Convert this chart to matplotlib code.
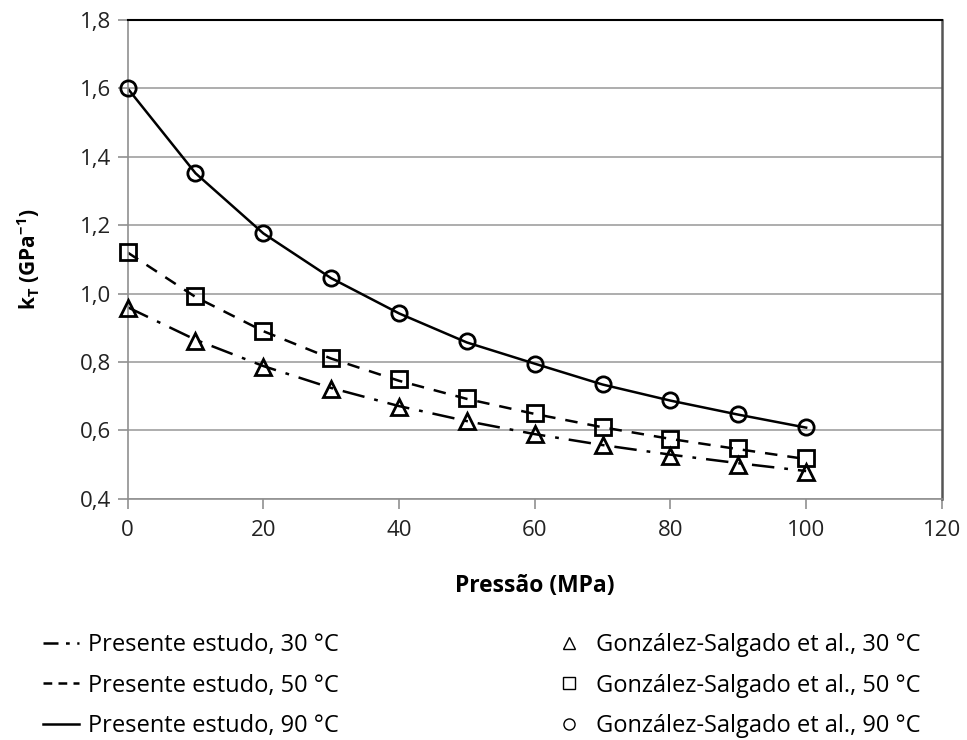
import matplotlib
matplotlib.use('Agg')
import matplotlib.pyplot as plt
from matplotlib.lines import Line2D
from matplotlib.ticker import FuncFormatter

plt.rcParams['font.family'] = ['Open Sans', 'DejaVu Sans']
plt.rcParams['mathtext.fontset'] = 'custom'
plt.rcParams['mathtext.rm'] = 'Open Sans'
plt.rcParams['mathtext.bf'] = 'Open Sans:bold'

pressure = [0, 10, 20, 30, 40, 50, 60, 70, 80, 90, 100]

# Presente estudo (linhas)
model_30 = [0.960, 0.865, 0.788, 0.724, 0.671, 0.627, 0.589, 0.557, 0.529, 0.504, 0.481]
model_50 = [1.120, 0.990, 0.890, 0.810, 0.745, 0.692, 0.648, 0.609, 0.575, 0.545, 0.516]
model_90 = [1.600, 1.352, 1.176, 1.045, 0.942, 0.857, 0.795, 0.734, 0.687, 0.646, 0.608]

# González-Salgado et al. (marcadores)
lit_30 = [0.957, 0.860, 0.784, 0.720, 0.667, 0.626, 0.588, 0.556, 0.526, 0.500, 0.477]
lit_50 = [1.123, 0.992, 0.892, 0.813, 0.749, 0.696, 0.652, 0.611, 0.576, 0.547, 0.520]
lit_90 = [1.602, 1.352, 1.176, 1.045, 0.942, 0.860, 0.795, 0.736, 0.689, 0.647, 0.610]

labels = ['Presente estudo, 30 °C', 'Presente estudo, 50 °C', 'Presente estudo, 90 °C',
          'González-Salgado et al., 30 °C', 'González-Salgado et al., 50 °C', 'González-Salgado et al., 90 °C']

fig = plt.figure(figsize=(9.67, 7.4), dpi=100)
ax = fig.add_axes([0.132, 0.326, 0.842, 0.647])

dashdot = (9, 4, 1.5, 4)
dashed = (5, 4)
ax.plot(pressure, model_30, color='black', lw=1.8, dashes=dashdot)
ax.plot(pressure, model_50, color='black', lw=1.8, dashes=dashed)
ax.plot(pressure, model_90, color='black', lw=1.8)

ms = 11
for vals, mk in [(lit_30, '^'), (lit_50, 's'), (lit_90, 'o')]:
    ax.plot(pressure, vals, mk, ms=ms, mfc='none', mec='black', mew=2, clip_on=False, zorder=3)

ax.set_xlim(0, 120)
ax.set_ylim(0.4, 1.8)
ax.set_xticks(range(0, 121, 20))
ax.set_yticks([0.4, 0.6, 0.8, 1.0, 1.2, 1.4, 1.6, 1.8])
ax.yaxis.set_major_formatter(FuncFormatter(lambda v, p: f'{v:.1f}'.replace('.', ',')))
ax.grid(axis='y', color='#a0a0a0', lw=1.2)
ax.set_axisbelow(True)
for side in ['left', 'bottom']:
    ax.spines[side].set_color('#909090')
    ax.spines[side].set_linewidth(1.2)
ax.spines['top'].set_color('black')
ax.spines['top'].set_linewidth(1.5)
ax.spines['right'].set_color('#555555')
ax.spines['right'].set_linewidth(1.8)
ax.tick_params(axis='both', which='major', direction='out', length=7, width=1.2, color='#909090',
               labelsize=16, labelcolor='#222222')
ax.tick_params(axis='x', pad=8)
ax.tick_params(axis='y', pad=5)

ax.set_xlabel('Pressão (MPa)', fontsize=16.5, fontweight='bold', labelpad=24)
ax.set_ylabel(r'k$_\mathbf{T}$ (GPa$^{\mathbf{-1}}$)', fontsize=15, fontweight='bold', labelpad=27)

handles = [
    Line2D([], [], color='black', lw=1.8, dashes=(6, 3, 1.5, 3), dash_capstyle='butt'),
    Line2D([], [], color='black', lw=1.8, dashes=(3.5, 2.5)),
    Line2D([], [], color='black', lw=1.8),
    Line2D([], [], ls='none', marker='^', ms=8, mfc='none', mec='black', mew=1),
    Line2D([], [], ls='none', marker='s', ms=8, mfc='none', mec='black', mew=1),
    Line2D([], [], ls='none', marker='o', ms=8, mfc='none', mec='black', mew=1),
]
fig.legend(handles=handles, labels=labels, ncol=2, loc='upper left', bbox_to_anchor=(0.023, 0.173),
           frameon=False, fontsize=17, columnspacing=9.0, handlelength=1.5, handletextpad=0.4,
           labelspacing=0.69)

fig.savefig('out.png', dpi=100)
